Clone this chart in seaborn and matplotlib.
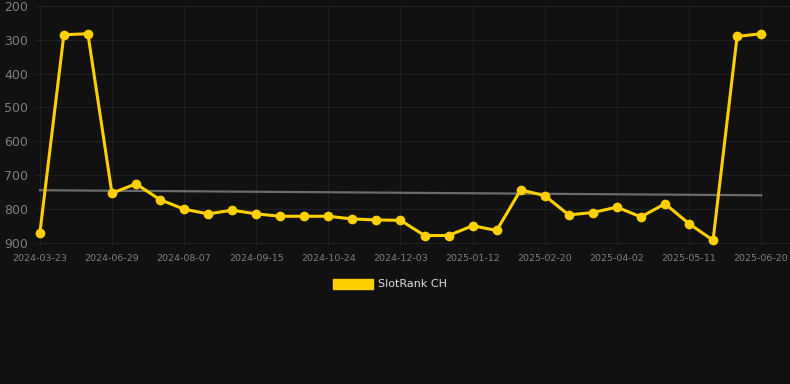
import seaborn as sb
import matplotlib.pyplot as plt
import matplotlib.patches as mpatches
import numpy as np
import pandas as pd

# rank values (lower is better, axis inverted)
valori = [873, 285, 282, 754, 726, 773, 801, 815, 804, 815, 822, 822, 822, 830, 833, 834,
          879, 879, 850, 864, 744, 761, 818, 811, 795, 824, 785, 844, 893, 290, 282]
# labels shown under every third point
etichete = ['2024-03-23', '2024-06-29', '2024-08-07', '2024-09-15', '2024-10-24', '2024-12-03',
            '2025-01-12', '2025-02-20', '2025-04-02', '2025-05-11', '2025-06-20']
# trend line start / end
trend = [745, 760]

FUNDAL = '#111111'
GALBEN = '#FFD000'

df = pd.DataFrame({'idx': np.arange(len(valori)), 'rank': valori})
dt = pd.DataFrame({'idx': [0, len(valori) - 1], 'rank': trend})

f = plt.figure(figsize=(7.9, 3.84), dpi=100, facecolor=FUNDAL)
ax = f.add_axes([35 / 790, 138 / 384, 755 / 790, 240 / 384])
ax.set_facecolor(FUNDAL)

sb.lineplot(data=dt, x='idx', y='rank', ax=ax, color='#6b6b6b', linewidth=1.6)
sb.lineplot(data=df, x='idx', y='rank', ax=ax, color=GALBEN, linewidth=2.2,
            marker='o', markersize=7, markeredgewidth=0, zorder=3)

ax.set_ylim(910, 200)
ax.set_xlim(-0.2, 31.2)
ax.set_yticks([200, 300, 400, 500, 600, 700, 800, 900])
ax.set_xticks(np.arange(0, len(valori), 3))
ax.set_xticklabels(etichete)
ax.tick_params(axis='y', colors='#808080', labelsize=9, length=0, pad=5)
ax.tick_params(axis='x', colors='#808080', labelsize=6.8, length=0, pad=6)
ax.grid(True, color='#212121', linewidth=0.8)
ax.set_axisbelow(True)
for s in ax.spines.values():
    s.set_visible(False)
ax.set_xlabel('')
ax.set_ylabel('')

h = mpatches.Patch(color=GALBEN, label='SlotRank CH')
leg = f.legend(handles=[h], loc='center', bbox_to_anchor=(390 / 790, 1 - 284 / 384),
               frameon=False, fontsize=8, labelcolor='#dddddd',
               handlelength=3.6, handleheight=1.0, handletextpad=0.5)

f.savefig('out.png', dpi=100, facecolor=FUNDAL)
